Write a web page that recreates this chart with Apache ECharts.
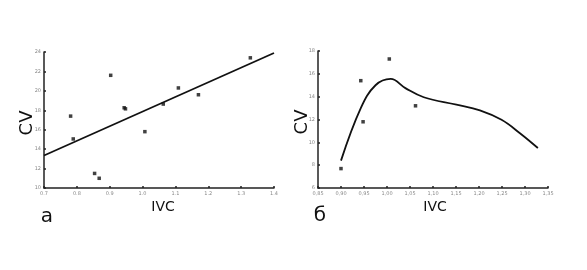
<!DOCTYPE html>
<html><head><meta charset="utf-8">
<script src="https://cdn.jsdelivr.net/npm/echarts@6/dist/echarts.min.js"></script>
<style>html,body{margin:0;padding:0;background:#fff}#c{width:587px;height:270px}</style>
</head><body><div id="c"></div>
<script>
// Panel a: scatter + linear fit
const aPoints = [[0.781,17.4],[0.789,15.05],[0.903,21.6],[0.854,11.5],[0.868,11.0],[0.944,18.26],[0.948,18.15],[1.007,15.8],[1.063,18.64],[1.109,20.3],[1.17,19.6],[1.328,23.4]];
const aFit = [[0.7,13.35],[1.4,23.9]];
// Panel b: scatter + smooth curve
const bPoints = [[0.900,7.7],[0.943,15.4],[0.948,11.8],[1.005,17.3],[1.062,13.2]];
const bCurve = [[0.900,8.4],[0.943,13.0],[0.975,15.0],[1.008,15.55],[1.04,14.75],[1.08,13.95],[1.151,13.3],[1.202,12.8],[1.249,11.97],[1.289,10.8],[1.328,9.5]];
const aX = {min:0.7,max:1.4,interval:0.1};
const aY = {min:10,max:24,interval:2};
const bX = {min:0.85,max:1.35,interval:0.05};
const bY = {min:6,max:18,interval:2};

const chart = echarts.init(document.getElementById('c'));
const axLine = {show:true,lineStyle:{color:'#222',width:1.5}};
const axTick = {show:true,inside:true,length:2,lineStyle:{color:'#222',width:1.5}};
const lab = {fontSize:5,color:'#888',fontFamily:'DejaVu Sans'};
chart.setOption({
  animation:false,
  grid:[{left:44,top:52,width:230,height:136},{left:318,top:51,width:230,height:137}],
  xAxis:[
    {type:'value',gridIndex:0,min:aX.min,max:aX.max,interval:aX.interval,axisLine:axLine,axisTick:axTick,splitLine:{show:false},
     axisLabel:Object.assign({margin:3,formatter:v=>v.toFixed(1)},lab)},
    {type:'value',gridIndex:1,min:bX.min,max:bX.max,interval:bX.interval,axisLine:axLine,axisTick:axTick,splitLine:{show:false},
     axisLabel:Object.assign({margin:3,formatter:v=>v.toFixed(2).replace('.',',')},lab)}
  ],
  yAxis:[
    {type:'value',gridIndex:0,min:aY.min,max:aY.max,interval:aY.interval,axisLine:axLine,axisTick:axTick,splitLine:{show:false},
     axisLabel:Object.assign({margin:3},lab)},
    {type:'value',gridIndex:1,min:bY.min,max:bY.max,interval:bY.interval,axisLine:axLine,axisTick:axTick,splitLine:{show:false},
     axisLabel:Object.assign({margin:3},lab)}
  ],
  series:[
    {type:'line',xAxisIndex:0,yAxisIndex:0,data:aFit,showSymbol:false,lineStyle:{color:'#111',width:1.8}},
    {type:'scatter',xAxisIndex:0,yAxisIndex:0,data:aPoints,symbol:'rect',symbolSize:3.5,itemStyle:{color:'#111'}},
    {type:'line',xAxisIndex:1,yAxisIndex:1,data:bCurve,smooth:0.4,showSymbol:false,lineStyle:{color:'#111',width:1.8}},
    {type:'scatter',xAxisIndex:1,yAxisIndex:1,data:bPoints,symbol:'rect',symbolSize:3.5,itemStyle:{color:'#111'}}
  ],
  graphic:[
    {type:'text',style:{text:'CV',fill:'#111',font:'18px "DejaVu Sans"',align:'center',verticalAlign:'middle'},rotation:Math.PI/2,x:27,y:123},
    {type:'text',style:{text:'CV',fill:'#111',font:'18px "DejaVu Sans"',align:'center',verticalAlign:'middle'},rotation:Math.PI/2,x:302,y:122},
    {type:'text',style:{text:'IVC',fill:'#111',font:'14px "DejaVu Sans"',align:'center',verticalAlign:'middle'},x:163,y:207},
    {type:'text',style:{text:'IVC',fill:'#111',font:'14px "DejaVu Sans"',align:'center',verticalAlign:'middle'},x:435,y:207},
    {type:'text',style:{text:'а',fill:'#111',font:'20px "DejaVu Sans"',align:'center',verticalAlign:'middle'},x:47,y:217},
    {type:'text',style:{text:'б',fill:'#111',font:'20px "DejaVu Sans"',align:'center',verticalAlign:'middle'},x:320,y:216}
  ]
});
</script></body></html>
